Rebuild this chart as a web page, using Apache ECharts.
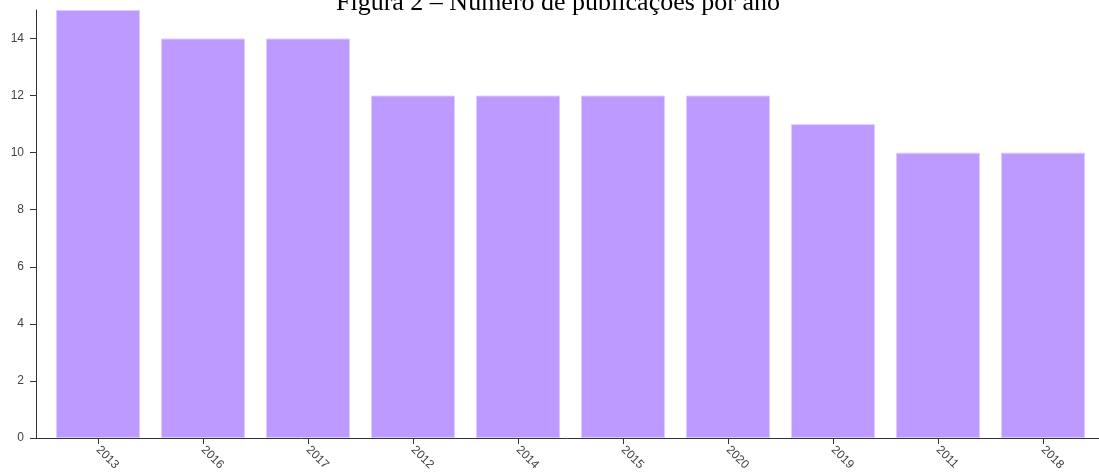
<!DOCTYPE html>
<html><head><meta charset="utf-8">
<script src="https://cdn.jsdelivr.net/npm/echarts@6/dist/echarts.min.js"></script>
<style>html,body{margin:0;padding:0;background:#fff}#c{width:1099px;height:475px}</style>
</head><body><div id="c"></div>
<script>
const titleText = 'Figura 2 – Número de publicações por ano';
const categories = ['2013','2016','2017','2012','2014','2015','2020','2019','2011','2018'];
const values = [15,14,14,12,12,12,12,11,10,10];

const chart = echarts.init(document.getElementById('c'));
chart.setOption({
  animation: false,
  title: {
    text: titleText, left: 553, top: -15, textAlign: 'center',
    textStyle: {fontFamily: 'Liberation Serif', fontSize: 26, fontWeight: 'normal', color: '#000'}
  },
  grid: [
    {left: 45.5, right: 3.5, top: 10, bottom: 37},
    {left: 36, right: 0, top: 10, bottom: 37}
  ],
  xAxis: [
    {
      type: 'category', data: categories, gridIndex: 0,
      axisLine: {show: false},
      axisTick: {show: true, alignWithLabel: true, length: 6, lineStyle: {color: '#333'}},
      axisLabel: {rotate: -45, margin: 10, color: '#444', fontFamily: 'Liberation Sans', fontSize: 12, interval: 0}
    },
    {
      type: 'value', gridIndex: 1, min: 0, max: 1,
      axisLine: {show: true, lineStyle: {color: '#333', width: 1}},
      axisTick: {show: false}, axisLabel: {show: false}, splitLine: {show: false}
    }
  ],
  yAxis: [
    {
      type: 'value', gridIndex: 0, min: 0, max: 15, interval: 2, offset: 9.5,
      axisLine: {show: true, lineStyle: {color: '#333'}},
      axisTick: {show: true, length: 6, lineStyle: {color: '#333'}},
      axisLabel: {showMaxLabel: false, margin: 12, color: '#444', fontFamily: 'Liberation Sans', fontSize: 12},
      splitLine: {show: false}
    },
    {
      type: 'value', gridIndex: 1, show: false
    }
  ],
  series: [{
    type: 'bar', data: values, xAxisIndex: 0, yAxisIndex: 0,
    barCategoryGap: '20%',
    itemStyle: {color: '#bc9aff', borderColor: '#dccbff', borderWidth: 1}
  }]
});
</script></body></html>
